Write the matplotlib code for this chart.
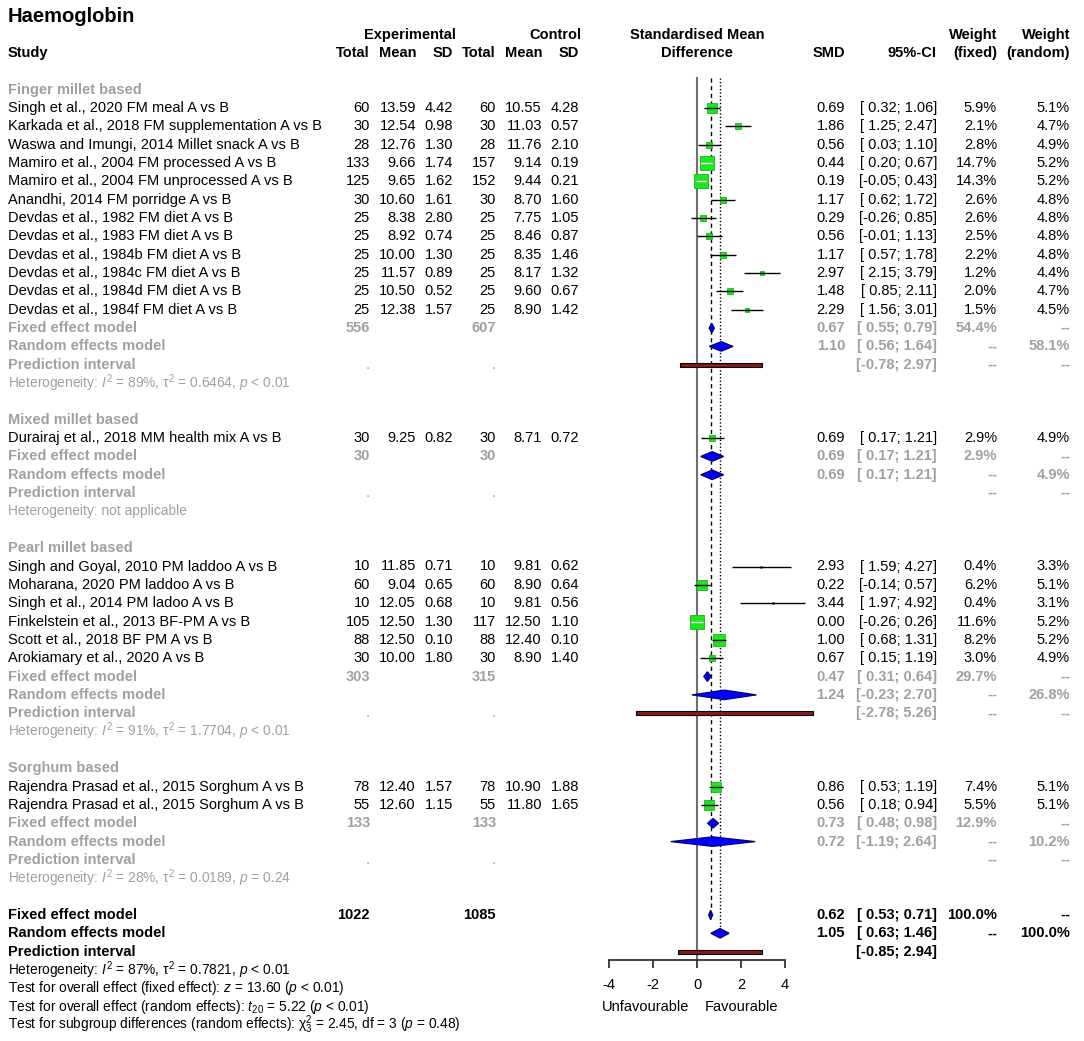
import numpy as np
import matplotlib.pyplot as plt
from matplotlib.patches import Polygon, Rectangle

plt.rcParams['font.family'] = ['Liberation Sans', 'DejaVu Sans']
plt.rcParams['mathtext.fontset'] = 'custom'
plt.rcParams['mathtext.rm'] = 'Liberation Sans'
plt.rcParams['mathtext.it'] = 'Liberation Sans:italic'
plt.rcParams['mathtext.bf'] = 'Liberation Sans:bold'

# ---- data ----
groups = ["Finger millet based", "Mixed millet based", "Pearl millet based", "Sorghum based"]

study = [
    "Singh et al., 2020 FM meal A vs B",
    "Karkada et al., 2018 FM supplementation A vs B",
    "Waswa and Imungi, 2014 Millet snack A vs B",
    "Mamiro et al., 2004 FM processed A vs B",
    "Mamiro et al., 2004 FM unprocessed A vs B",
    "Anandhi, 2014 FM porridge A vs B",
    "Devdas et al., 1982 FM diet A vs B",
    "Devdas et al., 1983 FM diet A vs B",
    "Devdas et al., 1984b FM diet A vs B",
    "Devdas et al., 1984c FM diet A vs B",
    "Devdas et al., 1984d FM diet A vs B",
    "Devdas et al., 1984f FM diet A vs B",
    "Durairaj et al., 2018 MM health mix A vs B",
    "Singh and Goyal, 2010 PM laddoo A vs B",
    "Moharana, 2020 PM laddoo A vs B",
    "Singh et al., 2014 PM ladoo A vs B",
    "Finkelstein et al., 2013 BF-PM A vs B",
    "Scott et al., 2018 BF PM A vs B",
    "Arokiamary et al., 2020 A vs B",
    "Rajendra Prasad et al., 2015 Sorghum A vs B",
    "Rajendra Prasad et al., 2015 Sorghum A vs B",
]
group_of = [0] * 12 + [1] + [2] * 6 + [3] * 2

n_e = [60, 30, 28, 133, 125, 30, 25, 25, 25, 25, 25, 25, 30, 10, 60, 10, 105, 88, 30, 78, 55]
mean_e = [13.59, 12.54, 12.76, 9.66, 9.65, 10.60, 8.38, 8.92, 10.00, 11.57, 10.50, 12.38,
          9.25, 11.85, 9.04, 12.05, 12.50, 12.50, 10.00, 12.40, 12.60]
sd_e = [4.42, 0.98, 1.30, 1.74, 1.62, 1.61, 2.80, 0.74, 1.30, 0.89, 0.52, 1.57,
        0.82, 0.71, 0.65, 0.68, 1.30, 0.10, 1.80, 1.57, 1.15]
n_c = [60, 30, 28, 157, 152, 30, 25, 25, 25, 25, 25, 25, 30, 10, 60, 10, 117, 88, 30, 78, 55]
mean_c = [10.55, 11.03, 11.76, 9.14, 9.44, 8.70, 7.75, 8.46, 8.35, 8.17, 9.60, 8.90,
          8.71, 9.81, 8.90, 9.81, 12.50, 12.40, 8.90, 10.90, 11.80]
sd_c = [4.28, 0.57, 2.10, 0.19, 0.21, 1.60, 1.05, 0.87, 1.46, 1.32, 0.67, 1.42,
        0.72, 0.62, 0.64, 0.56, 1.10, 0.10, 1.40, 1.88, 1.65]
smd = [0.69, 1.86, 0.56, 0.44, 0.19, 1.17, 0.29, 0.56, 1.17, 2.97, 1.48, 2.29,
       0.69, 2.93, 0.22, 3.44, 0.00, 1.00, 0.67, 0.86, 0.56]
ci_lo = [0.32, 1.25, 0.03, 0.20, -0.05, 0.62, -0.26, -0.01, 0.57, 2.15, 0.85, 1.56,
         0.17, 1.59, -0.14, 1.97, -0.26, 0.68, 0.15, 0.53, 0.18]
ci_hi = [1.06, 2.47, 1.10, 0.67, 0.43, 1.72, 0.85, 1.13, 1.78, 3.79, 2.11, 3.01,
         1.21, 4.27, 0.57, 4.92, 0.26, 1.31, 1.19, 1.19, 0.94]
w_fixed = [5.9, 2.1, 2.8, 14.7, 14.3, 2.6, 2.6, 2.5, 2.2, 1.2, 2.0, 1.5,
           2.9, 0.4, 6.2, 0.4, 11.6, 8.2, 3.0, 7.4, 5.5]
w_random = [5.1, 4.7, 4.9, 5.2, 5.2, 4.8, 4.8, 4.8, 4.8, 4.4, 4.7, 4.5,
            4.9, 3.3, 5.1, 3.1, 5.2, 5.2, 4.9, 5.1, 5.1]

sub_n_e = [556, 30, 303, 133]
sub_n_c = [607, 30, 315, 133]
sub_fixed = [0.67, 0.69, 0.47, 0.73]
sub_fixed_lo = [0.55, 0.17, 0.31, 0.48]
sub_fixed_hi = [0.79, 1.21, 0.64, 0.98]
sub_fixed_w = [54.4, 2.9, 29.7, 12.9]
sub_random = [1.10, 0.69, 1.24, 0.72]
sub_random_lo = [0.56, 0.17, -0.23, -1.19]
sub_random_hi = [1.64, 1.21, 2.70, 2.64]
sub_random_w = [58.1, 4.9, 26.8, 10.2]
sub_pi_lo = [-0.78, None, -2.78, None]
sub_pi_hi = [2.97, None, 5.26, None]
sub_het = [
    r"Heterogeneity: $\it{I}^2$ = 89%, $\mathrm{\tau}^2$ = 0.6464, $\it{p}$ < 0.01",
    "Heterogeneity: not applicable",
    r"Heterogeneity: $\it{I}^2$ = 91%, $\mathrm{\tau}^2$ = 1.7704, $\it{p}$ < 0.01",
    r"Heterogeneity: $\it{I}^2$ = 28%, $\mathrm{\tau}^2$ = 0.0189, $\it{p}$ = 0.24",
]

tot_n_e, tot_n_c = 1022, 1085
tot_fixed, tot_fixed_lo, tot_fixed_hi = 0.62, 0.53, 0.71
tot_random, tot_random_lo, tot_random_hi = 1.05, 0.63, 1.46
tot_pi_lo, tot_pi_hi = -0.85, 2.94
tot_lines = [
    r"Heterogeneity: $\it{I}^2$ = 87%, $\mathrm{\tau}^2$ = 0.7821, $\it{p}$ < 0.01",
    r"Test for overall effect (fixed effect): $\it{z}$ = 13.60 ($\it{p}$ < 0.01)",
    r"Test for overall effect (random effects): $\it{t}_{20}$ = 5.22 ($\it{p}$ < 0.01)",
    r"Test for subgroup differences (random effects): $\mathrm{\chi}^2_3$ = 2.45, df = 3 ($\it{p}$ = 0.48)",
]

# ---- layout ----
W, H = 1084, 1041
ROW0, ROWH = 89.66, 18.34          # pixel y of row 0 and row height
PX0, PXU = 697.0, 22.0             # pixel x of SMD 0 and pixels per unit
FS, FS_HET = 10.5, 9.9
GREY = '#a0a0a0'

def px_row(py):
    return (py - ROW0) / ROWH

ylim = (px_row(H), px_row(0))
fx_lo, fx_hi = -5.0, 7.0

fig = plt.figure(figsize=(W / 100, H / 100), dpi=100)
tx = fig.add_axes([0, 0, 1, 1])
tx.set_xlim(0, W)
tx.set_ylim(*ylim)
tx.axis('off')

fx_left = (PX0 + fx_lo * PXU) / W
fx_width = (fx_hi - fx_lo) * PXU / W
ax = fig.add_axes([fx_left, 0, fx_width, 1])
ax.set_xlim(fx_lo, fx_hi)
ax.set_ylim(*ylim)
ax.patch.set_alpha(0)

# column x positions (right edges, px)
X_STUDY = 7.5
X_NE, X_ME, X_SE = 370, 416, 453
X_NC, X_MC, X_SC = 496, 542, 579
X_SMD, X_CI, X_WF, X_WR = 845, 937, 997, 1070


def put(x, row, s, ha='right', color='black', weight='normal', size=FS):
    tx.text(x, row, s, ha=ha, va='center', color=color, fontweight=weight, fontsize=size)


def fmt_ci(lo, hi):
    return "[{:5.2f}; {:.2f}]".format(lo, hi)


# headers
put(X_STUDY, -4, "Haemoglobin", ha='left', weight='bold', size=14.5)
put(456, -3, "Experimental", weight='bold')
put(581, -3, "Control", weight='bold')
put(PX0, -3, "Standardised Mean", ha='center', weight='bold')
put(X_WF, -3, "Weight", weight='bold')
put(X_WR, -3, "Weight", weight='bold')
put(X_STUDY, -2, "Study", ha='left', weight='bold')
for x, s in [(X_NE, "Total"), (X_ME, "Mean"), (X_SE, "SD"), (X_NC, "Total"), (X_MC, "Mean"),
             (X_SC, "SD"), (X_SMD, "SMD"), (X_CI, "95%-CI"), (X_WF, "(fixed)"), (X_WR, "(random)")]:
    put(x, -2, s, weight='bold')
put(PX0, -2, "Difference", ha='center', weight='bold')

SQ_K = 3.91   # px per sqrt(weight)
DIA_H = 0.26
PI_H = 0.11


def diamond(est, lo, hi, row):
    ax.add_patch(Polygon([(lo, row), (est, row - DIA_H), (hi, row), (est, row + DIA_H)],
                         closed=True, facecolor='#0000ff', edgecolor='#00006e', lw=0.9, zorder=4))


def pibar(lo, hi, row):
    ax.add_patch(Rectangle((lo, row - PI_H), hi - lo, 2 * PI_H, facecolor='#8b1a1a',
                           edgecolor='black', lw=0.8, zorder=4))


row = 0
for g, gname in enumerate(groups):
    put(X_STUDY, row, gname, ha='left', color=GREY, weight='bold')
    row += 1
    for i in [k for k in range(len(study)) if group_of[k] == g]:
        put(X_STUDY, row, study[i], ha='left')
        put(X_NE, row, str(n_e[i]))
        put(X_ME, row, "{:.2f}".format(mean_e[i]))
        put(X_SE, row, "{:.2f}".format(sd_e[i]))
        put(X_NC, row, str(n_c[i]))
        put(X_MC, row, "{:.2f}".format(mean_c[i]))
        put(X_SC, row, "{:.2f}".format(sd_c[i]))
        put(X_SMD, row, "{:.2f}".format(smd[i]))
        put(X_CI, row, fmt_ci(ci_lo[i], ci_hi[i]))
        put(X_WF, row, "{:.1f}%".format(w_fixed[i]))
        put(X_WR, row, "{:.1f}%".format(w_random[i]))
        side = SQ_K * np.sqrt(w_fixed[i])
        inside = (ci_hi[i] - ci_lo[i]) * PXU < side
        ax.plot([smd[i]], [row], marker='s', ms=side * 0.72, mfc='#1ee61e', mec='#18b818',
                mew=0.6, ls='none', zorder=3)
        ax.plot([ci_lo[i], ci_hi[i]], [row, row], color='white' if inside else 'black',
                lw=1.0, zorder=5, solid_capstyle='butt')
        row += 1
    # fixed
    put(X_STUDY, row, "Fixed effect model", ha='left', color=GREY, weight='bold')
    put(X_NE, row, str(sub_n_e[g]), color=GREY, weight='bold')
    put(X_NC, row, str(sub_n_c[g]), color=GREY, weight='bold')
    put(X_SMD, row, "{:.2f}".format(sub_fixed[g]), color=GREY, weight='bold')
    put(X_CI, row, fmt_ci(sub_fixed_lo[g], sub_fixed_hi[g]), color=GREY, weight='bold')
    put(X_WF, row, "{:.1f}%".format(sub_fixed_w[g]), color=GREY, weight='bold')
    put(X_WR, row, "--", color=GREY, weight='bold')
    diamond(sub_fixed[g], sub_fixed_lo[g], sub_fixed_hi[g], row)
    row += 1
    # random
    put(X_STUDY, row, "Random effects model", ha='left', color=GREY, weight='bold')
    put(X_SMD, row, "{:.2f}".format(sub_random[g]), color=GREY, weight='bold')
    put(X_CI, row, fmt_ci(sub_random_lo[g], sub_random_hi[g]), color=GREY, weight='bold')
    put(X_WF, row, "--", color=GREY, weight='bold')
    put(X_WR, row, "{:.1f}%".format(sub_random_w[g]), color=GREY, weight='bold')
    diamond(sub_random[g], sub_random_lo[g], sub_random_hi[g], row)
    row += 1
    # prediction interval
    put(X_STUDY, row, "Prediction interval", ha='left', color=GREY, weight='bold')
    put(X_NE, row, ".", color=GREY)
    put(X_NC, row, ".", color=GREY)
    if sub_pi_lo[g] is not None:
        put(X_CI, row, fmt_ci(sub_pi_lo[g], sub_pi_hi[g]), color=GREY, weight='bold')
        pibar(sub_pi_lo[g], sub_pi_hi[g], row)
    put(X_WF, row, "--", color=GREY, weight='bold')
    put(X_WR, row, "--", color=GREY, weight='bold')
    row += 1
    put(X_STUDY, row, sub_het[g], ha='left', color=GREY, size=FS_HET)
    row += 2

# overall
fixed_row = row
put(X_STUDY, row, "Fixed effect model", ha='left', weight='bold')
put(X_NE, row, str(tot_n_e), weight='bold')
put(X_NC, row, str(tot_n_c), weight='bold')
put(X_SMD, row, "{:.2f}".format(tot_fixed), weight='bold')
put(X_CI, row, fmt_ci(tot_fixed_lo, tot_fixed_hi), weight='bold')
put(X_WF, row, "100.0%", weight='bold')
put(X_WR, row, "--", weight='bold')
diamond(tot_fixed, tot_fixed_lo, tot_fixed_hi, row)
row += 1
random_row = row
put(X_STUDY, row, "Random effects model", ha='left', weight='bold')
put(X_SMD, row, "{:.2f}".format(tot_random), weight='bold')
put(X_CI, row, fmt_ci(tot_random_lo, tot_random_hi), weight='bold')
put(X_WF, row, "--", weight='bold')
put(X_WR, row, "100.0%", weight='bold')
diamond(tot_random, tot_random_lo, tot_random_hi, row)
row += 1
put(X_STUDY, row, "Prediction interval", ha='left', weight='bold')
put(X_CI, row, fmt_ci(tot_pi_lo, tot_pi_hi), weight='bold')
pibar(tot_pi_lo, tot_pi_hi, row)
row += 1
for s in tot_lines:
    put(X_STUDY, row, s, ha='left', size=FS_HET)
    row += 1

# reference lines
axis_row = px_row(960)
top_row = px_row(78)
ax.plot([0, 0], [top_row, axis_row], color='#707070', lw=1.5, zorder=1)
ax.plot([tot_fixed, tot_fixed], [top_row, fixed_row - DIA_H], color='black', lw=1.0,
        ls=(0, (3, 2.5)), zorder=1)
ax.plot([tot_random, tot_random], [top_row, random_row - DIA_H], color='black', lw=1.0,
        ls=(0, (1, 1.5)), zorder=1)

# x axis
for s in ['top', 'left', 'right']:
    ax.spines[s].set_visible(False)
ax.spines['bottom'].set_position(('data', axis_row))
ax.spines['bottom'].set_bounds(-4, 4)
ax.spines['bottom'].set_color('#333333')
ax.spines['bottom'].set_linewidth(1.3)
ax.set_xticks([-4, -2, 0, 2, 4])
ax.set_xticklabels(["-4", "-2", "0", "2", "4"])
ax.tick_params(axis='x', direction='out', length=6, width=1.3, color='#333333',
               labelsize=FS, pad=7)
ax.set_yticks([])
ax.text(-0.35, px_row(1007), "Unfavourable", ha='right', va='center', fontsize=FS)
ax.text(0.37, px_row(1007), "Favourable", ha='left', va='center', fontsize=FS)

fig.savefig("out.png", dpi=100)
